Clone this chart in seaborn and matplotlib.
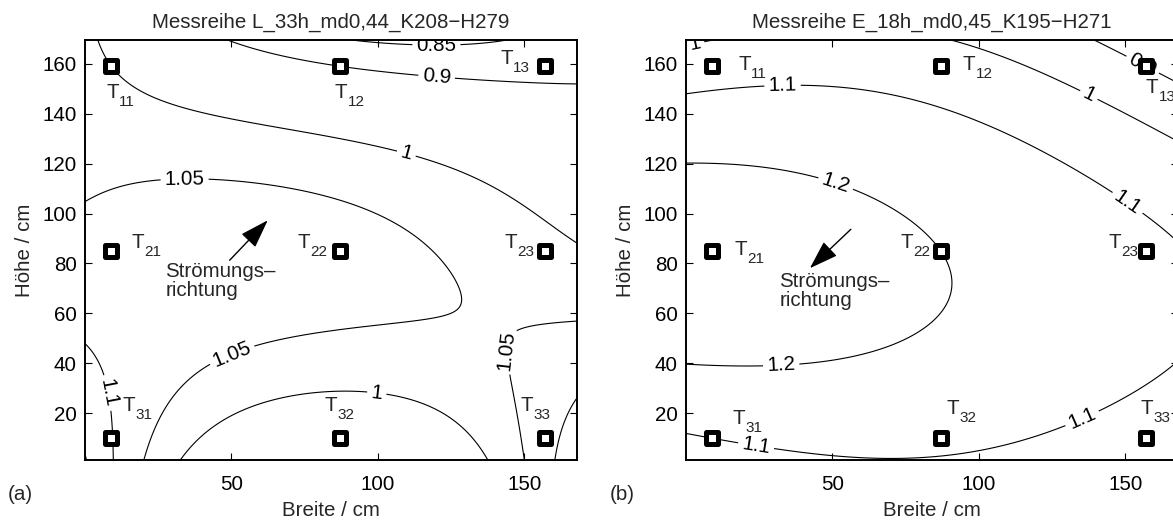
import numpy as np
import pandas as pd
import matplotlib
matplotlib.use("Agg")
import matplotlib.pyplot as plt
import seaborn as sns

# Sensor grid (cm): three columns across the width, three rows over the height
sensor_x = [9, 87, 157]
sensor_y = [159, 85, 10]          # rows 1..3, top to bottom
sensor_names = [["11", "12", "13"],
                ["21", "22", "23"],
                ["31", "32", "33"]]

# Normalised readings per sensor, rows top -> bottom
values_L = [[1.000, 0.900, 0.885],
            [1.069, 1.067, 1.017],
            [1.102, 0.940, 1.080]]
values_E = [[1.055, 1.045, 0.900],
            [1.250, 1.200, 1.120],
            [1.100, 1.120, 1.050]]

levels_L = [0.85, 0.9, 1.0, 1.05, 1.1, 1.15]
levels_E = [0.9, 1.0, 1.1, 1.2]

title_L = "Messreihe L_33h_md0,44_K208\u2212H279"
title_E = "Messreihe E_18h_md0,45_K195\u2212H271"

xticks = [50, 100, 150]
yticks = [20, 40, 60, 80, 100, 120, 140, 160]
XLIM = (0, 168)
YLIM = (1.3, 169.5)

# where the contour labels sit (data coords)
clabel_pos_L = [(120, 167.5), (120, 154), (109.5, 123), (34, 115),
                (50, 44), (142.5, 45), (99.7, 28.7), (7, 28)]
clabel_pos_E = [(3, 168), (33, 150), (50, 108), (138, 148.5), (150.6, 104),
                (157, 162), (32.5, 39.3), (23.75, 5.6), (136, 16)]

# sensor label placement: name -> (dx px, dy px downwards, ha) of the "T" baseline
label_off_L = {"11": (-5, 32, "left"), "12": (-5, 32, "left"), "13": (-15, -2, "right"),
               "21": (20, -3, "left"), "22": (-13, -3, "right"), "23": (-11, -3, "right"),
               "31": (11, -27, "left"), "32": (-15, -27, "left"), "33": (-24, -27, "left")}
label_off_E = {"11": (26, 4, "left"), "12": (22, 4, "left"), "13": (0, 27, "left"),
               "21": (22, 4, "left"), "22": (-11, -3, "right"), "23": (-8, -3, "right"),
               "31": (20, -14, "left"), "32": (6, -24, "left"), "33": (-5, -24, "left")}

sns.set_style("ticks")
plt.rcParams["font.family"] = ["Liberation Sans", "DejaVu Sans"]
plt.rcParams["axes.unicode_minus"] = True

FS = 14.8
FS_SUB = 11.0
PX = 0.72        # points per pixel at dpi 100
T_W = 13         # width of the "T" glyph in px
SUB_W = 17       # width of a two-digit subscript in px
SUB_DROP = 8     # subscript baseline below the "T" baseline, px


def lagrange_weights(nodes, t):
    w = []
    for i, ni in enumerate(nodes):
        wi = np.ones_like(t, dtype=float)
        for j, nj in enumerate(nodes):
            if j != i:
                wi = wi * (t - nj) / (ni - nj)
        w.append(wi)
    return np.array(w)


def field(values):
    """Quadratic interpolation surface through the 3x3 sensor readings."""
    gx = np.linspace(XLIM[0], XLIM[1], 400)
    gy = np.linspace(YLIM[0], YLIM[1], 400)
    wx = lagrange_weights(sensor_x, gx)
    wy = lagrange_weights(sensor_y, gy)
    z = wy.T @ np.asarray(values) @ wx
    return gx, gy, z


def sensor_label(ax, x, y, sub, dx, dy, ha):
    if ha == "left":
        tx, sx = dx, dx + T_W
    else:
        sx, tx = dx, dx - SUB_W
    ax.annotate("T", (x, y), xytext=(tx * PX, -dy * PX), textcoords="offset points",
                ha=ha, va="baseline", fontsize=FS, zorder=6)
    ax.annotate(sub, (x, y), xytext=(sx * PX, -(dy + SUB_DROP) * PX),
                textcoords="offset points", ha=ha, va="baseline",
                fontsize=FS_SUB, zorder=6)


def panel(ax, values, levels, title, clabel_pos, label_off, arrow, text_xy):
    gx, gy, z = field(values)
    cs = ax.contour(gx, gy, z, levels=levels, colors="k", linewidths=0.8)
    ax.clabel(cs, levels=levels, inline=True, inline_spacing=4, fontsize=FS,
              fmt=lambda v: f"{v:g}", manual=clabel_pos)

    df = pd.DataFrame([(sensor_x[c], sensor_y[r], sensor_names[r][c])
                       for r in range(3) for c in range(3)],
                      columns=["x", "y", "name"])
    sns.scatterplot(data=df, x="x", y="y", marker="s", s=81, color="white",
                    edgecolor="black", linewidth=3.6, zorder=5, ax=ax,
                    legend=False, clip_on=False)
    for _, row in df.iterrows():
        dx, dy, ha = label_off[row["name"]]
        sensor_label(ax, row["x"], row["y"], row["name"], dx, dy, ha)

    ax.annotate("", xy=arrow[1], xytext=arrow[0],
                arrowprops=dict(arrowstyle="-|>,head_length=0.9,head_width=0.3",
                                color="k", lw=1.0, mutation_scale=20,
                                shrinkA=0, shrinkB=0))
    ax.text(text_xy[0], text_xy[1], "Str\u00f6mungs\u2013\nrichtung", ha="left",
            va="center", fontsize=FS, linespacing=1.0)

    ax.set_xlim(*XLIM)
    ax.set_ylim(*YLIM)
    ax.set_xticks(xticks)
    ax.set_yticks(yticks)
    ax.tick_params(direction="in", length=5, width=0.8, top=True, right=True,
                   labelsize=FS, colors="k")
    ax.tick_params(axis="x", pad=11)
    ax.tick_params(axis="y", pad=6)
    for s in ax.spines.values():
        s.set_linewidth(1.4)
        s.set_color("k")
    ax.set_xlabel("Breite / cm", fontsize=FS, labelpad=5)
    ax.set_ylabel("H\u00f6he / cm", fontsize=FS, labelpad=6)
    ax.set_title(title, fontsize=FS, pad=9)
    ax.set_facecolor("white")


fig = plt.figure(figsize=(11.73, 5.22), dpi=100)
W, H = 1173, 522
ax1 = fig.add_axes([85 / W, 62 / H, 492 / W, 420 / H])
ax2 = fig.add_axes([686 / W, 62 / H, 492 / W, 420 / H])

panel(ax1, values_L, levels_L, title_L, clabel_pos_L, label_off_L,
      arrow=((49.4, 81.3), (62.4, 97.3)), text_xy=(27.4, 73.0))
panel(ax2, values_E, levels_E, title_E, clabel_pos_E, label_off_E,
      arrow=((56.3, 93.7), (42.3, 78.1)), text_xy=(31.9, 68.8))

fig.text(8 / W, 1 - 494 / H, "(a)", fontsize=FS, va="center", ha="left")
fig.text(610 / W, 1 - 494 / H, "(b)", fontsize=FS, va="center", ha="left")

fig.savefig("out.png", dpi=100, facecolor="white")
